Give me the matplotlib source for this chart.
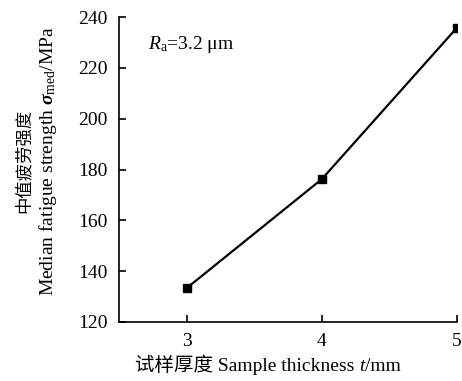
import matplotlib
matplotlib.use('Agg')
import matplotlib.pyplot as plt

plt.rcParams['font.family'] = ['Liberation Serif', 'Noto Sans CJK SC']
plt.rcParams['mathtext.fontset'] = 'custom'
plt.rcParams['mathtext.rm'] = 'Liberation Serif'
plt.rcParams['mathtext.it'] = 'Liberation Serif:italic'
plt.rcParams['mathtext.bf'] = 'Liberation Serif:italic:bold'

# data
thickness = [3, 4, 5]
strength = [133.3, 176.2, 235.8]
yticks = [120, 140, 160, 180, 200, 220, 240]
xticks = [3, 4, 5]

W, H = 462, 381
fig = plt.figure(figsize=(W / 100, H / 100), dpi=100)
ax = fig.add_axes([119 / W, 59 / H, 338 / W, 305 / H])

ax.plot(thickness, strength, color='black', lw=1.6, marker='s', markersize=5.5)

ax.set_xlim(2.5, 5)
ax.set_ylim(120, 240)
ax.set_xticks(xticks)
ax.set_yticks(yticks)
ax.spines['top'].set_visible(False)
ax.spines['right'].set_visible(False)
ax.tick_params(direction='in', length=5, width=1.2, labelsize=14, pad=8)
for s in ['left', 'bottom']:
    ax.spines[s].set_linewidth(1.2)

# x label, built from pieces so the CJK fallback works
t1 = fig.text(135 / W, 6 / H, '试样厚度 Sample thickness ', fontsize=14, va='bottom')
t2 = ax.annotate('t', xy=(1, 0), xycoords=t1, fontsize=14, style='italic',
                 va='bottom', ha='left')
ax.annotate('/mm', xy=(1, 0), xycoords=t2, fontsize=14, va='bottom', ha='left')

# y label, two lines
fig.text(24 / W, 1 - 161 / H, '中值疲劳强度', fontsize=12.5, rotation=90,
         ha='center', va='center')
fig.text(48 / W, 1 - 161 / H, 'Median fatigue strength $\\mathbf{σ}_{\\rm med}$/MPa',
         fontsize=14, rotation=90, ha='center', va='center')

ax.text(0.086, 0.91, '$R_{\\rm a}$=3.2 μm', transform=ax.transAxes, fontsize=14, va='center')

fig.savefig('out.png', dpi=100)
